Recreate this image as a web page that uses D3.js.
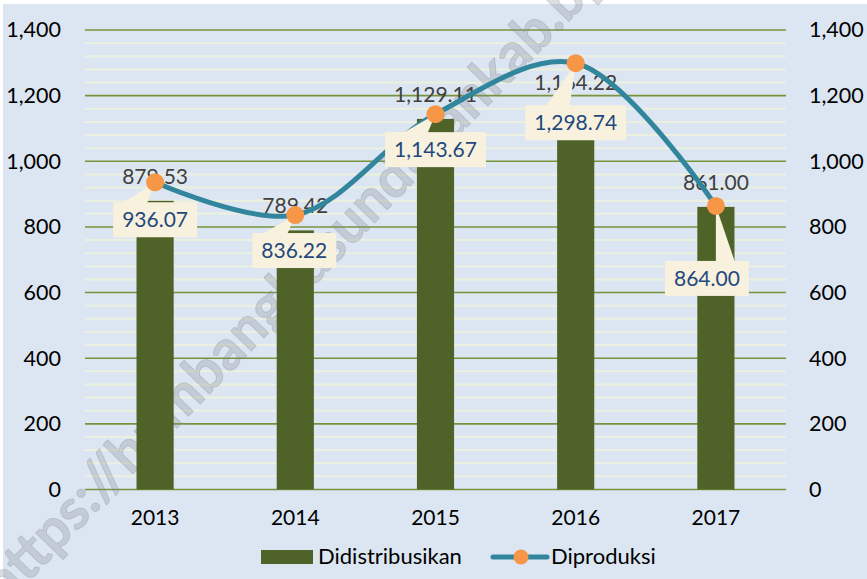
<!DOCTYPE html>
<html>
<head>
<meta charset="utf-8">
<script src="https://cdn.jsdelivr.net/npm/d3@7/dist/d3.min.js"></script>
<style>
  html, body { margin: 0; padding: 0; background: #ffffff; }
  svg { display: block; font-family: Lato, "Open Sans", sans-serif; }
</style>
</head>
<body>
<svg id="chart" width="867" height="579"></svg>
<script>
// ---- data ----
const categories = ["2013", "2014", "2015", "2016", "2017"];
const didistribusikan = [879.53, 789.42, 1129.11, 1164.22, 861.00];
const diproduksi = [936.07, 836.22, 1143.67, 1298.74, 864.00];
const yTickValues = [0, 200, 400, 600, 800, 1000, 1200, 1400];
const seriesNames = ["Didistribusikan", "Diproduksi"];
const watermarkText = "https://humbanghasundutankab.bps.go.id";

// ---- layout ----
const W = 867, H = 579;
const plot = { left: 85, right: 786, top: 30, bottom: 489.5 };
const colors = {
  bg: "#dce6f2", bar: "#4f6228", line: "#31859c", marker: "#f79646",
  major: "#77933c", minor: "#ebf1de", label: "#404040", callText: "#1f497d",
  callBg: "#f8f1dd", axisText: "#000000"
};
// callout placement relative to marker (presentation only)
const calloutLayout = [
  { dy: 20, dx: 0, w1: -33, w2: -8 },
  { dy: 18, dx: -1, w1: -33, w2: -8 },
  { dy: 18, dx: 0, w1: -33, w2: -8 },
  { dy: 42, dx: 0, w1: -30, w2: -6 },
  { dy: 55, dx: -9, w1: 0, w2: 19 }
];
// watermark anchor: centre of char 1 ("t") and char 27 (last "b" of "tankab")
const wmAnchors = { i1: 1, p1: [18, 562], i2: 27, p2: [531, 30] };

const svg = d3.select("#chart");
svg.append("rect").attr("x", 3).attr("y", 4).attr("width", W - 3).attr("height", H - 4).attr("fill", colors.bg);

const x = d3.scaleBand().domain(categories).range([plot.left, plot.right]).padding(0);
const cx = c => x(c) + x.bandwidth() / 2;
const y = d3.scaleLinear().domain([0, 1400]).range([plot.bottom, plot.top]);

// minor grid
const minorTicks = d3.range(40, 1400, 40).filter(v => v % 200 !== 0);
svg.append("g").selectAll("line").data(minorTicks).join("line")
  .attr("x1", plot.left).attr("x2", plot.right)
  .attr("y1", d => y(d)).attr("y2", d => y(d))
  .attr("stroke", colors.minor).attr("stroke-width", 2);
// major grid
svg.append("g").selectAll("line").data(yTickValues).join("line")
  .attr("x1", plot.left).attr("x2", plot.right)
  .attr("y1", d => y(d)).attr("y2", d => y(d))
  .attr("stroke", colors.major).attr("stroke-width", 1.6);

// watermark (behind data marks), fitted to two anchor characters
(function () {
  const wm = svg.append("text")
    .attr("x", 0).attr("y", 0)
    .attr("font-size", 50).attr("font-weight", "bold")
    .attr("fill", "#8a8f99").attr("fill-opacity", 0.3)
    .attr("stroke", "#7a7f88").attr("stroke-opacity", 0.25).attr("stroke-width", 1)
    .text(watermarkText);
  const n = wm.node();
  const ctr = i => { const e = n.getExtentOfChar(i); return [e.x + e.width / 2, e.y + e.height / 2]; };
  let a = ctr(wmAnchors.i1), b = ctr(wmAnchors.i2);
  const D = Math.hypot(wmAnchors.p2[0] - wmAnchors.p1[0], wmAnchors.p2[1] - wmAnchors.p1[1]);
  const fs = 50 * D / (b[0] - a[0]);
  wm.attr("font-size", fs);
  a = ctr(wmAnchors.i1);
  const ang = Math.atan2(wmAnchors.p2[1] - wmAnchors.p1[1], wmAnchors.p2[0] - wmAnchors.p1[0]) * 180 / Math.PI;
  wm.attr("transform", `translate(${wmAnchors.p1[0]},${wmAnchors.p1[1]}) rotate(${ang}) translate(${-a[0]},${-a[1]})`);
})();

// axes
const fmt = d3.format(",");
const leftAxis = svg.append("g").attr("transform", `translate(${plot.left},0)`)
  .call(d3.axisLeft(y).tickValues(yTickValues).tickFormat(fmt).tickSize(0).tickPadding(24));
const rightAxis = svg.append("g").attr("transform", `translate(${plot.right},0)`)
  .call(d3.axisRight(y).tickValues(yTickValues).tickFormat(fmt).tickSize(0).tickPadding(23));
const bottomAxis = svg.append("g").attr("transform", `translate(0,${plot.bottom})`)
  .call(d3.axisBottom(x).tickSize(0).tickPadding(21));
[leftAxis, rightAxis].forEach(g => {
  g.select(".domain").remove();
  g.selectAll("text").attr("font-family", "Lato, sans-serif").attr("font-size", 21.5).attr("fill", colors.axisText);
});
bottomAxis.select(".domain").remove();
bottomAxis.selectAll("text").attr("font-family", "Lato, sans-serif").attr("font-size", 21).attr("fill", colors.axisText);

// bars
const barW = x.bandwidth() * 0.265;
svg.append("g").selectAll("rect").data(didistribusikan).join("rect")
  .attr("x", (d, i) => cx(categories[i]) - barW / 2)
  .attr("width", barW)
  .attr("y", d => y(d))
  .attr("height", d => y(0) - y(d))
  .attr("fill", colors.bar);

// bar labels
const fmt2 = d3.format(",.2f");
svg.append("g").selectAll("text").data(didistribusikan).join("text")
  .attr("x", (d, i) => cx(categories[i]))
  .attr("y", d => y(d) - 17)
  .attr("text-anchor", "middle")
  .attr("font-size", 21)
  .attr("fill", colors.label)
  .text(d => fmt2(d));

// line
const pts = diproduksi.map((d, i) => [cx(categories[i]), y(d)]);
svg.append("path")
  .attr("d", d3.line().curve(d3.curveCatmullRom.alpha(0.5))(pts))
  .attr("fill", "none").attr("stroke", colors.line).attr("stroke-width", 5)
  .attr("stroke-linecap", "round");

// callouts
const cg = svg.append("g");
diproduksi.forEach((d, i) => {
  const [mx, my] = pts[i];
  const L = calloutLayout[i];
  const txt = fmt2(d);
  const tmp = cg.append("text").attr("font-size", 21).text(txt);
  const tw = tmp.node().getComputedTextLength();
  tmp.remove();
  const bw = tw + 18, bh = 35;
  const bx = mx + L.dx - bw / 2, by = my + L.dy;
  cg.append("path")
    .attr("d", `M${mx},${my} L${mx + L.w1},${by + 1} L${mx + L.w2},${by + 1} Z`)
    .attr("fill", colors.callBg);
  cg.append("rect").attr("x", bx).attr("y", by).attr("width", bw).attr("height", bh)
    .attr("fill", colors.callBg);
  cg.append("text").attr("x", bx + bw / 2).attr("y", by + bh / 2 + 7.5)
    .attr("text-anchor", "middle").attr("font-size", 21).attr("fill", colors.callText)
    .text(txt);
});

// markers
svg.append("g").selectAll("circle").data(pts).join("circle")
  .attr("cx", d => d[0]).attr("cy", d => d[1]).attr("r", 9)
  .attr("fill", colors.marker);

// legend
const lg = svg.append("g");
lg.append("rect").attr("x", 261).attr("y", 550).attr("width", 52).attr("height", 14).attr("fill", colors.bar);
lg.append("text").attr("x", 318).attr("y", 564).attr("font-size", 22).attr("fill", "#000").text(seriesNames[0]);
lg.append("line").attr("x1", 493).attr("x2", 547).attr("y1", 557).attr("y2", 557)
  .attr("stroke", colors.line).attr("stroke-width", 5).attr("stroke-linecap", "round");
lg.append("circle").attr("cx", 521).attr("cy", 557).attr("r", 7.5).attr("fill", colors.marker);
lg.append("text").attr("x", 551).attr("y", 564).attr("font-size", 22).attr("fill", "#000").text(seriesNames[1]);
</script>
</body>
</html>
